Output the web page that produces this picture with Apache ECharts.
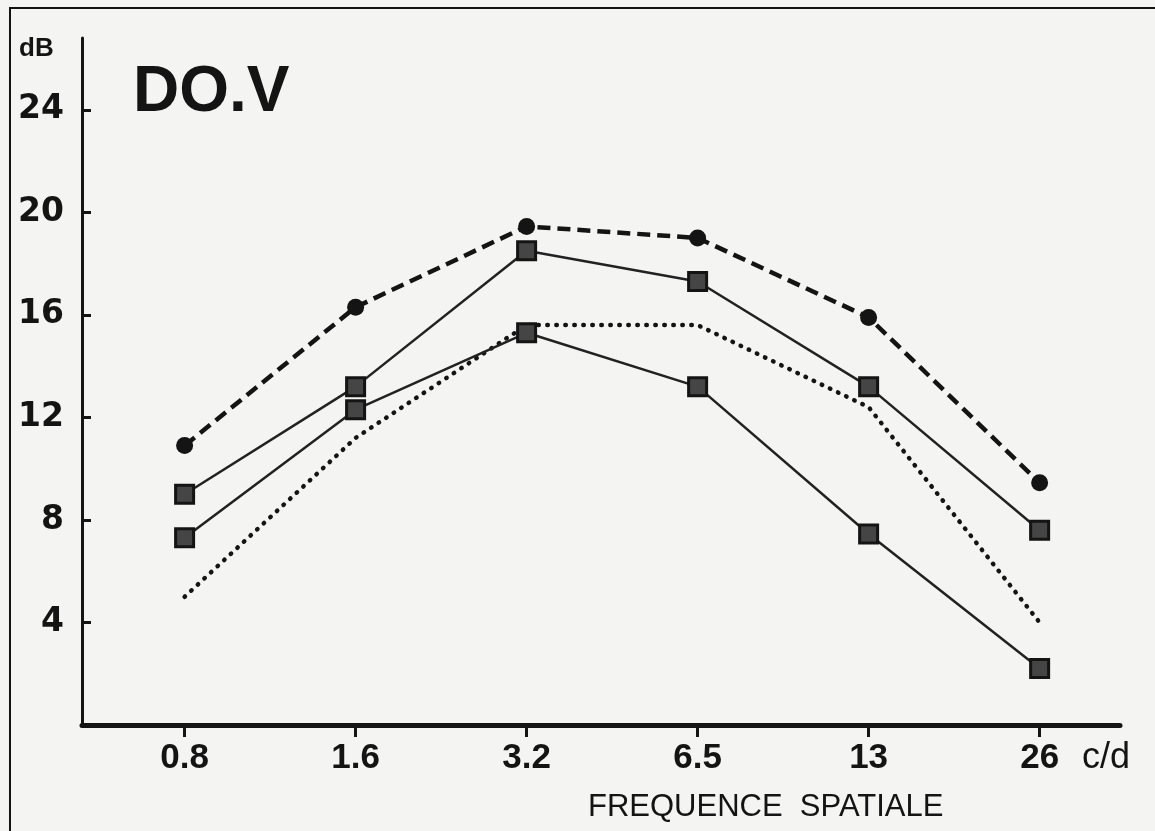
<!DOCTYPE html>
<html>
<head>
<meta charset="utf-8">
<script src="https://cdn.jsdelivr.net/npm/echarts@6/dist/echarts.min.js"></script>
<style>
  html, body { margin: 0; padding: 0; background: #ffffff; }
  #chart { width: 1155px; height: 831px; }
</style>
</head>
<body>
<div id="chart"></div>
<script>
// spatial frequency categories (c/d)
const categories = ['0.8', '1.6', '3.2', '6.5', '13', '26']
const yTicks = [4, 8, 12, 16, 20, 24]

// dB values
const dashedCircles = [10.9, 16.3, 19.45, 19.0, 15.9, 9.45]
const upperSquares = [9.0, 13.2, 18.5, 17.3, 13.2, 7.6]
const lowerSquares = [7.3, 12.3, 15.3, 13.2, 7.45, 2.2]
const dottedCurve = [5.0, 11.2, 15.6, 15.6, 12.4, 4.0]

const toPairs = (arr) => arr.map((v, i) => [i, v])
const catIdx = categories.map((c, i) => i)

const chart = echarts.init(document.getElementById('chart'))

const ink = '#141414'

const option = {
  backgroundColor: '#f4f4f3',
  animation: false,
  title: {
    text: 'DO.V',
    left: 128,
    top: 56,
    textStyle: {
      fontFamily: 'Liberation Sans',
      fontWeight: 'bold',
      fontSize: 64,
      color: ink,
    },
  },
  grid: {
    left: 82,
    right: 35,
    top: 38,
    bottom: 106,
  },
  xAxis: {
    type: 'value',
    min: -0.6,
    max: 5.47,
    splitLine: { show: false },
    axisLine: { onZero: false, lineStyle: { color: ink, width: 5 } },
    axisTick: {
      customValues: catIdx,
      length: 12,
      lineStyle: { color: ink, width: 3 },
    },
    axisLabel: {
      customValues: catIdx,
      formatter: (v) => categories[Math.round(v)],
      margin: 16,
      color: ink,
      fontFamily: 'Liberation Sans',
      fontWeight: 'bold',
      fontSize: 35,
    },
  },
  yAxis: {
    type: 'value',
    min: 0,
    max: 26.8,
    interval: 4,
    splitLine: { show: false },
    axisLine: { onZero: false, lineStyle: { color: ink, width: 3 } },
    axisTick: {
      inside: true,
      length: 9,
      lineStyle: { color: ink, width: 3 },
    },
    axisLabel: {
      showMinLabel: false,
      showMaxLabel: false,
      formatter: (v) => (yTicks.includes(v) ? String(v) : ''),
      margin: 18,
      color: ink,
      fontFamily: 'DejaVu Sans',
      fontWeight: 'bold',
      fontSize: 33,
    },
  },
  graphic: [
    {
      type: 'rect',
      shape: { x: 10, y: 8, width: 1160, height: 840 },
      style: { fill: 'none', stroke: ink, lineWidth: 2 },
      silent: true,
    },
    {
      type: 'text',
      left: 19,
      top: 36,
      style: { text: 'dB', fill: ink, font: 'bold 26px "Liberation Sans"' },
    },
    {
      type: 'text',
      left: 1082,
      top: 740,
      style: { text: 'c/d', fill: ink, font: '36px "Liberation Sans"' },
    },
    {
      type: 'text',
      left: 588,
      top: 792,
      style: { text: 'FREQUENCE  SPATIALE', fill: ink, font: '31px "Liberation Sans"' },
    },
  ],
  series: [
    {
      name: 'dotted',
      type: 'line',
      data: toPairs(dottedCurve),
      showSymbol: false,
      lineStyle: { color: ink, width: 4.5, type: [0.5, 8.5], cap: 'round' },
      z: 2,
    },
    {
      name: 'dashed',
      type: 'line',
      data: toPairs(dashedCircles),
      symbol: 'circle',
      symbolSize: 17,
      itemStyle: { color: ink },
      lineStyle: { color: ink, width: 4.5, type: [13, 7] },
      z: 3,
    },
    {
      name: 'upper',
      type: 'line',
      data: toPairs(upperSquares),
      symbol: 'rect',
      symbolSize: 18,
      itemStyle: { color: '#454545', borderColor: ink, borderWidth: 3 },
      lineStyle: { color: '#222', width: 2.5 },
      z: 3,
    },
    {
      name: 'lower',
      type: 'line',
      data: toPairs(lowerSquares),
      symbol: 'rect',
      symbolSize: 18,
      itemStyle: { color: '#454545', borderColor: ink, borderWidth: 3 },
      lineStyle: { color: '#222', width: 2.5 },
      z: 3,
    },
  ],
}

chart.setOption(option)
</script>
</body>
</html>
